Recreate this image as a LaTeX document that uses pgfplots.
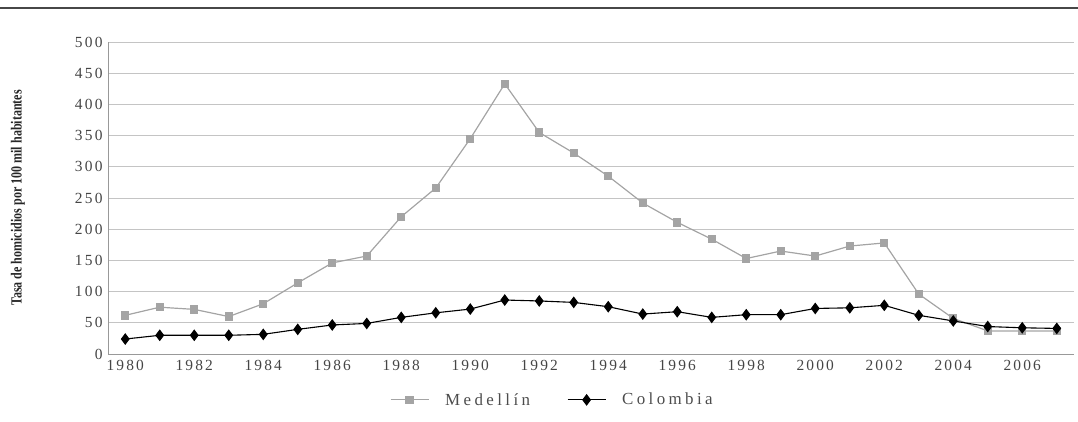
\documentclass[border=0pt]{standalone}
\usepackage{fontspec}
\usepackage{pgfplots}
\pgfplotsset{compat=1.18}
\setmainfont{Liberation Serif}
\newfontfamily\tickfont[LetterSpace=14]{Liberation Serif}
\newfontfamily\legfont[LetterSpace=20]{Liberation Serif}
\newfontfamily\yfont[FakeStretch=0.78]{Liberation Serif}
\definecolor{medgray}{HTML}{A4A4A4}
\definecolor{gridgray}{HTML}{C4C4C4}
\definecolor{ticktext}{HTML}{454545}
\begin{document}
\begin{tikzpicture}[x=1bp,y=1bp]
\useasboundingbox (0,0) rectangle (1078,421);
\draw[line width=1.3bp, color=black!72] (0,413) -- (1078,413);
\begin{axis}[
  at={(108bp,67bp)}, anchor=south west,
  scale only axis, width=966bp, height=312bp,
  xmin=1979.5, xmax=2007.5, ymin=0, ymax=500,
  xtick={1980,1982,...,2006}, ytick={0,50,...,500},
  ymajorgrids, major grid style={color=gridgray, line width=0.9bp},
  axis x line*=bottom, axis y line*=left,
  axis line style={-, color=black!40, line width=0.9bp},
  major tick length=0,
  /pgf/number format/assume math mode=true,
  /pgf/number format/set thousands separator={},
  tick label style={font=\tickfont\fontsize{15.5}{15.5}\selectfont, text=ticktext},
  y tick label style={xshift=-2bp},
  x tick label style={yshift=-3bp},
  ylabel={Tasa de homicidios por 100 mil habitantes},
  every axis y label/.style={at={(axis description cs:0,0.5)}, xshift=-90bp, rotate=90, anchor=center, font=\yfont\bfseries\fontsize{15.5}{15.5}\selectfont, text=black!85},
  legend style={at={(0.46,-0.147)}, anchor=center, draw=none, fill=none, legend columns=2,
    font=\legfont\fontsize{17}{17}\selectfont, text=black!70,
    /tikz/every odd column/.append style={column sep=14bp},
    /tikz/every even column/.append style={column sep=35bp}},
  legend image code/.code={\draw[mark repeat=2,mark phase=2] plot coordinates {(0bp,0bp) (19bp,0bp) (38bp,0bp)};},
  clip=false,
]
\addplot[color=medgray, line width=1.2bp, mark=square*, mark size=3.6bp, mark options={fill=medgray, draw=medgray}] coordinates {
(1980,62) (1981,75) (1982,71.5) (1983,60) (1984,80.5) (1985,114) (1986,146) (1987,157)
(1988,220) (1989,266) (1990,345) (1991,433) (1992,355) (1993,322) (1994,285) (1995,242)
(1996,211) (1997,184) (1998,153) (1999,165) (2000,157) (2001,173) (2002,178) (2003,96)
(2004,57) (2005,37) (2006,37) (2007,37)};
\addlegendentry{Medellín}
\addplot[color=black, line width=1.1bp, mark=diamond*, mark size=5bp, mark options={fill=black, draw=black}] coordinates {
(1980,24) (1981,30) (1982,30) (1983,30) (1984,31.5) (1985,39.5) (1986,46.5) (1987,49)
(1988,58.7) (1989,66) (1990,72) (1991,86.5) (1992,85) (1993,82.7) (1994,75.8) (1995,64)
(1996,67.8) (1997,58.7) (1998,63) (1999,63) (2000,73) (2001,74) (2002,78) (2003,62)
(2004,53) (2005,44) (2006,42) (2007,41)};
\addlegendentry{Colombia}
\end{axis}
\end{tikzpicture}
\end{document}
